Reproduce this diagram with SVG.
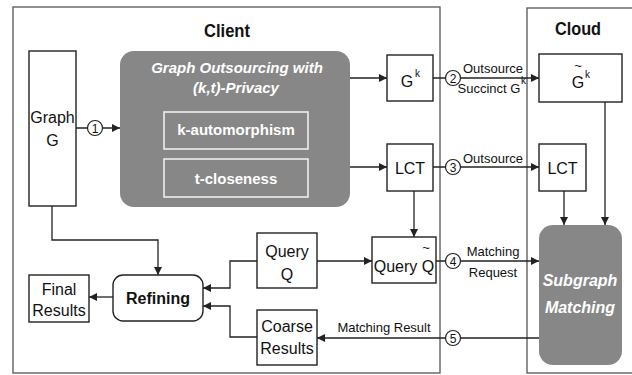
<svg xmlns="http://www.w3.org/2000/svg" width="632" height="375" viewBox="0 0 632 375">
  <style>
    text { font-family: "Liberation Sans", Arial, sans-serif; fill: #111; }
    .frame { fill: #fff; stroke: #555; stroke-width: 1.3; }
    .box { fill: #fff; stroke: #222; stroke-width: 1.4; }
    .gray { fill: #878787; stroke: none; }
    .inner { fill: none; stroke: #eeeeee; stroke-width: 1.6; }
    .title { font-size: 19px; font-weight: bold; text-anchor: middle; }
    .node { font-size: 16px; text-anchor: middle; }
    .tilde { font-size: 13px; text-anchor: middle; }
    .lbl { font-size: 13px; text-anchor: middle; }
    .sup { font-size: 10px; }
    .wb { fill: #fff; font-weight: bold; text-anchor: middle; }
    .wbi { fill: #fff; font-weight: bold; font-style: italic; text-anchor: middle; }
    .conn { fill: none; stroke: #222; stroke-width: 1.3; }
    .step { fill: #fff; stroke: #222; stroke-width: 1.2; }
    .num { font-size: 12px; text-anchor: middle; }
  </style>
  <defs>
    <marker id="arrow" viewBox="0 0 10 10" refX="10" refY="5" markerWidth="8" markerHeight="8" markerUnits="userSpaceOnUse" orient="auto">
      <path d="M0,0 L10,5 L0,10 z" fill="#222"/>
    </marker>
  </defs>

  <!-- side frames -->
  <g id="client">
    <rect class="frame" x="13" y="7" width="427" height="366"/>
    <text class="title" x="227" y="37" textLength="46" lengthAdjust="spacingAndGlyphs">Client</text>
  </g>
  <g id="cloud">
    <rect class="frame" x="527" y="8" width="112" height="365"/>
    <text class="title" x="578" y="35" textLength="46" lengthAdjust="spacingAndGlyphs">Cloud</text>
  </g>

  <!-- connectors -->
  <g id="connectors">
    <path class="conn" d="M76,128 H120" marker-end="url(#arrow)"/>
    <path class="conn" d="M350,78 H387" marker-end="url(#arrow)"/>
    <path class="conn" d="M350,167 H387" marker-end="url(#arrow)"/>
    <path class="conn" d="M433,78 H539" marker-end="url(#arrow)"/>
    <path class="conn" d="M433,167 H539" marker-end="url(#arrow)"/>
    <path class="conn" d="M414,191 V237" marker-end="url(#arrow)"/>
    <path class="conn" d="M317,261 H372" marker-end="url(#arrow)"/>
    <path class="conn" d="M436,261 H539" marker-end="url(#arrow)"/>
    <path class="conn" d="M564,191 V225" marker-end="url(#arrow)"/>
    <path class="conn" d="M605,102 V225" marker-end="url(#arrow)"/>
    <path class="conn" d="M539,338 H317" marker-end="url(#arrow)"/>
    <path class="conn" d="M52,206 V240 H158 V275" marker-end="url(#arrow)"/>
    <path class="conn" d="M257,261 H230 V288 H203" marker-end="url(#arrow)"/>
    <path class="conn" d="M257,337 H230 V306 H203" marker-end="url(#arrow)"/>
    <path class="conn" d="M113,297 H89" marker-end="url(#arrow)"/>

    <!-- numbered steps -->
    <circle class="step" cx="95" cy="128" r="7.5"/>
    <text class="num" x="95" y="132.5">1</text>
    <circle class="step" cx="453" cy="78" r="7.5"/>
    <text class="num" x="453" y="82.5">2</text>
    <circle class="step" cx="453" cy="167" r="7.5"/>
    <text class="num" x="453" y="171.5">3</text>
    <circle class="step" cx="453" cy="261" r="7.5"/>
    <text class="num" x="453" y="265.5">4</text>
    <circle class="step" cx="453" cy="338" r="7.5"/>
    <text class="num" x="453" y="342.5">5</text>

    <!-- edge labels -->
    <text class="lbl" x="493" y="73">Outsource</text>
    <text class="lbl" x="489" y="93">Succinct G</text>
    <text class="sup" x="521" y="84">k</text>
    <text class="lbl" x="493" y="163">Outsource</text>
    <text class="lbl" x="493" y="256">Matching</text>
    <text class="lbl" x="493" y="277">Request</text>
    <text class="lbl" x="384" y="332">Matching Result</text>
  </g>

  <!-- client nodes -->
  <g id="graph-g">
    <rect class="box" x="29" y="51" width="47" height="155"/>
    <text class="node" x="52.5" y="123">Graph</text>
    <text class="node" x="52.5" y="146">G</text>
  </g>
  <g id="outsourcing">
    <rect class="gray" x="120" y="51" width="230" height="156" rx="14"/>
    <text class="wbi" x="237" y="73" font-size="15">Graph Outsourcing with</text>
    <text class="wbi" x="236" y="93" font-size="15">(k,t)-Privacy</text>
  </g>
  <g id="k-automorphism">
    <rect class="inner" x="164" y="112" width="144" height="37"/>
    <text class="wb" x="236" y="135" font-size="15">k-automorphism</text>
  </g>
  <g id="t-closeness">
    <rect class="inner" x="164" y="159" width="144" height="38"/>
    <text class="wb" x="236" y="184" font-size="15">t-closeness</text>
  </g>
  <g id="gk">
    <rect class="box" x="387" y="55" width="46" height="46"/>
    <text class="node" x="407" y="87">G</text>
    <text class="sup" x="415" y="77">k</text>
  </g>
  <g id="lct-client">
    <rect class="box" x="387" y="144" width="46" height="47"/>
    <text class="node" x="410" y="174">LCT</text>
  </g>
  <g id="query-q">
    <rect class="box" x="257" y="233" width="60" height="55"/>
    <text class="node" x="287" y="257">Query</text>
    <text class="node" x="287" y="280">Q</text>
  </g>
  <g id="query-q-tilde">
    <rect class="box" x="372" y="237" width="64" height="46"/>
    <text class="node" x="404" y="272" font-size="15">Query Q</text>
    <text class="tilde" x="426" y="252">~</text>
  </g>
  <g id="refining">
    <rect class="box" x="113" y="275" width="90" height="46" rx="10"/>
    <text class="node" x="158" y="304" font-weight="bold" font-size="15">Refining</text>
  </g>
  <g id="final-results">
    <rect class="box" x="29" y="275" width="60" height="47"/>
    <text class="node" x="59" y="295">Final</text>
    <text class="node" x="59" y="316">Results</text>
  </g>
  <g id="coarse-results">
    <rect class="box" x="257" y="310" width="60" height="55"/>
    <text class="node" x="287" y="332">Coarse</text>
    <text class="node" x="287" y="354">Results</text>
  </g>

  <!-- cloud nodes -->
  <g id="gk-tilde">
    <rect class="box" x="539" y="54" width="83" height="48"/>
    <text class="node" x="578" y="88">G</text>
    <text class="tilde" x="578" y="70">~</text>
    <text class="sup" x="585" y="78">k</text>
  </g>
  <g id="lct-cloud">
    <rect class="box" x="539" y="144" width="47" height="47"/>
    <text class="node" x="562.5" y="174">LCT</text>
  </g>
  <g id="subgraph-matching">
    <rect class="gray" x="539" y="225" width="83" height="140" rx="14"/>
    <text class="wbi" x="580" y="286" font-size="16">Subgraph</text>
    <text class="wbi" x="580" y="313" font-size="16">Matching</text>
  </g>
</svg>
